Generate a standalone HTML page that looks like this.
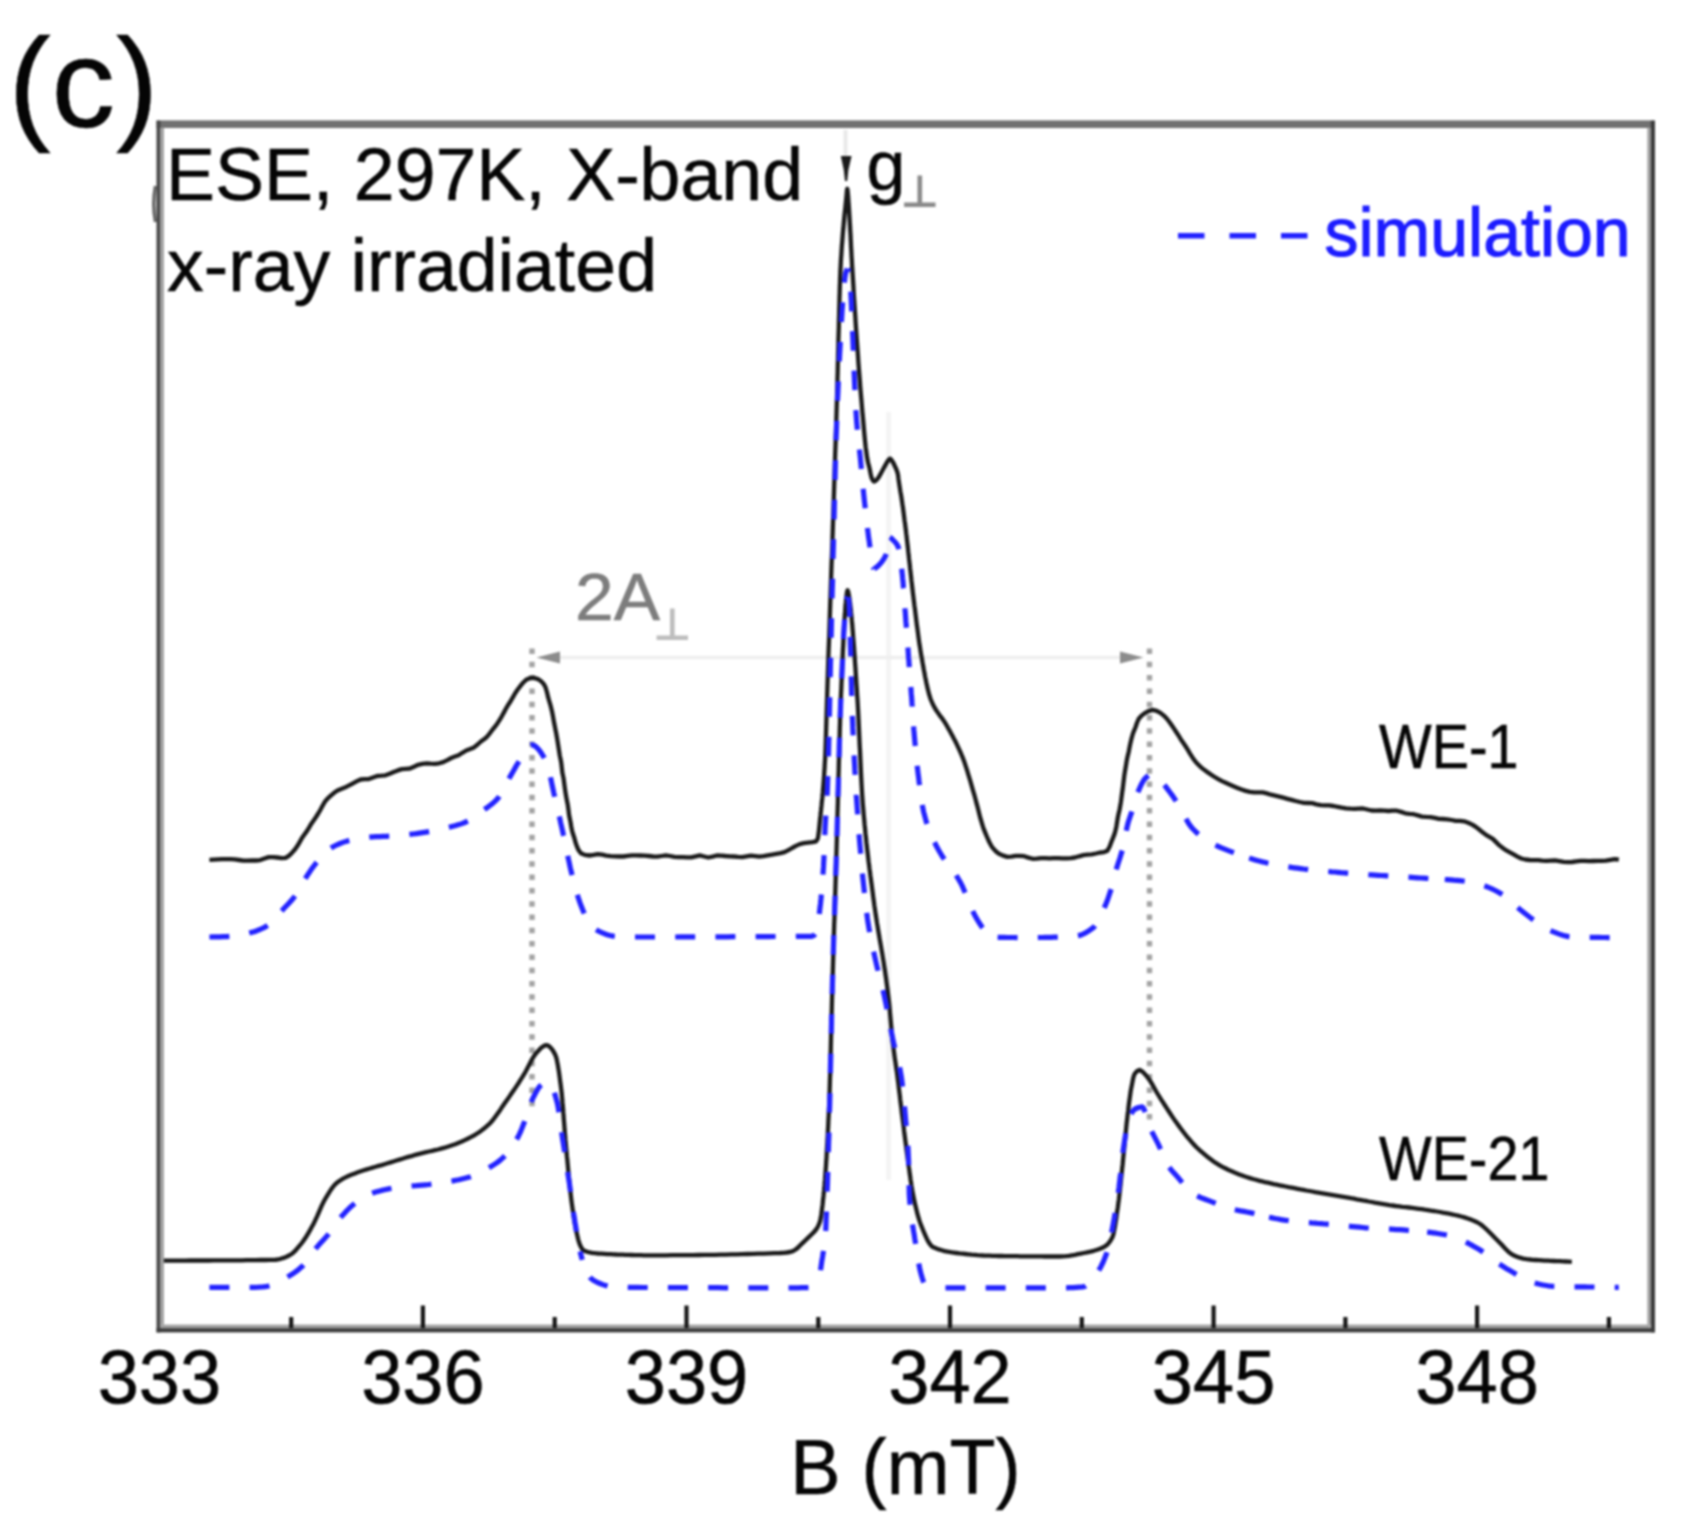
<!DOCTYPE html>
<html lang="en"><head><meta charset="utf-8"><title>ESE spectra (c)</title>
<style>
html,body{margin:0;padding:0;background:#fff;}
body{width:1684px;height:1530px;overflow:hidden;}
svg{display:block;}
</style></head><body>
<svg width="1684" height="1530" viewBox="0 0 1684 1530">
<defs><filter id="soft" x="0" y="0" width="1684" height="1530" filterUnits="userSpaceOnUse" color-interpolation-filters="sRGB"><feGaussianBlur stdDeviation="0.9"/></filter></defs>
<rect width="1684" height="1530" fill="#fff"/>
<g filter="url(#soft)">
<g stroke="#eeeeee" stroke-width="4" fill="none">
<line x1="845.5" y1="130" x2="845.5" y2="158" stroke="#e9e9e9"/>
<line x1="888.8" y1="412" x2="888.8" y2="1180" stroke="#f4f4f4" stroke-width="5"/>
<line x1="558" y1="657.5" x2="1122" y2="657.5" stroke-width="3.5"/>
</g>
<g stroke="#a3a3a3" stroke-width="5.4" stroke-dasharray="5.5 7.8" fill="none">
<line x1="532" y1="648.5" x2="532" y2="1111"/>
<line x1="1149.5" y1="648.5" x2="1149.5" y2="1121"/>
</g>
<g fill="#8c8c8c">
<polygon points="536.5,657.5 560,651.5 560,663.5"/>
<polygon points="1143.5,657.5 1120,651.5 1120,663.5"/>
</g>
<g fill="none" stroke-linejoin="round" stroke-linecap="butt">
<path d="M209.4 859.8L213.1 859.6L217.9 859.4L222.1 859.2L226.4 859.1L230.6 859.2L234.8 859.4L239.1 860L243.3 860.6L247.5 860.7L251.8 860.5L256 860.5L260.2 860.1L264.5 858.5L268.7 857.1L272.9 857.1L277.2 857.5L281.5 858.1L285.6 857.9L289.2 855.6L292.3 852.4L294.9 849.5L297.3 846.1L299.8 841.8L302.3 837.4L304.6 834.2L306.9 831.1L309.2 827.3L311.5 823.4L313.8 820.2L316 817L318.2 813.5L320.4 809.8L322.7 805.5L325.1 801.4L327.9 798.3L330.8 795.6L334.1 792.8L337.5 790.5L341.1 789L344.8 787.6L348.6 785.7L352.5 783.6L356.5 781.4L360.6 779.5L364.7 779.2L368.8 779.1L373 777.5L377.2 776L381.4 775.7L385.5 775.3L389.6 773.8L393.7 772L397.8 770.4L401.8 769.1L405.8 768.8L409.9 768.5L414 766.7L418.1 764.8L422.3 763.8L426.5 763.4L430.7 763.7L434.9 763.9L439.1 763.3L443.2 762.1L447.3 760.1L451.2 758L454.9 756.6L458.6 755.2L462.3 752.8L466.2 750.5L470.1 749L474 747.4L477.6 744.5L480.9 741.5L484 739.3L486.8 737L489.6 733.6L492.3 729.9L494.8 726.8L497.2 723.7L499.5 720.1L501.8 716.3L504.1 712.1L506.4 707.8L508.6 704.2L510.9 700.7L513.1 696.9L515.3 693L517.7 689.5L520.3 686.2L523.1 682.7L526.2 679.8L529.8 678.1L533.8 677.7L537.9 679.1L541.5 681.6L543.9 684.2L545.6 687.5L547 692.3L548.1 697.2L549.2 701L550.3 704.6L551.3 708.6L552.3 712.8L553.2 717.6L554 722.3L554.8 726.2L555.5 729.9L556.3 733.8L557 737.9L557.7 742.2L558.4 746.7L559.1 751.2L559.8 755.6L560.5 758.9L561.2 762.5L561.8 767.8L562.4 773L563.1 776.1L563.7 779.2L564.3 784.1L565 789.3L565.7 793.8L566.4 797.9L567 801L567.7 804.4L568.4 809.4L569 814.5L569.7 818.3L570.5 821.9L571.2 826.4L572.1 830.8L573.1 834.3L574.3 837.7L575.3 841.8L576.7 845.9L578.4 849.9L580.9 853.2L584.8 854.9L589.4 855.5L593.6 854.9L597.9 854.1L602.1 854.7L606.3 855.6L610.6 856.1L614.8 856.3L619.1 856.5L623.3 856.5L627.6 855.9L631.8 855.3L636.1 855.3L640.3 855.5L644.6 855.7L648.8 856L653.1 856.5L657.3 856.7L661.6 856L665.8 855.3L670.1 856L674.3 856.9L678.6 857.1L682.8 857.1L687.1 857.3L691.3 857.3L695.6 856.3L699.8 855.4L704.1 856.5L708.3 857.5L712.6 856.6L716.8 855.5L721.1 855.6L725.3 856L729.6 856.3L733.8 856.5L738.1 856.9L742.3 857.1L746.6 856.3L750.8 855.6L755.1 856.1L759.3 856.7L763.6 856.1L767.8 855.3L772.1 854.6L776.3 853.9L780.5 853.2L784.5 852.2L788.4 850.2L792.1 848L795.9 845.9L799.8 844.1L803.9 843.2L808.1 842.7L812.5 842.2L816.1 841.3L817.6 839.1L818.1 837L818.5 833.9L819 830.1L819.4 825.9L819.8 821.6L820.2 817.6L820.5 815.2L820.7 812.8L821 810.5L821.2 808.1L821.5 805.7L821.7 803.2L822 800.6L822.3 798L822.5 795.3L822.8 792.4L823 789.4L823.3 786.3L823.6 783L823.8 779.5L824.1 775.8L824.3 771.9L824.6 767.8L824.8 763.4L825.1 758.8L825.2 756.8L825.3 754.6L825.4 752.2L825.5 749.5L825.6 746.7L825.7 743.7L825.8 740.6L825.9 737.3L826 734L826.1 730.6L826.2 727.1L826.3 723.6L826.4 720.1L826.5 716.6L826.6 713.1L826.7 709.7L826.8 706.4L826.9 703.1L827 700L827.4 687.4L827.8 674.9L828.2 662.5L828.6 650.2L829.1 638L829.5 625.9L829.9 613.7L830.3 601.6L830.7 589.6L831.1 577.5L831.5 565.4L832 553.2L832.4 541.1L832.8 528.8L833.2 516.5L833.6 504.1L834 491.6L834.4 479L834.8 466.3L835.2 453.4L835.7 440.3L836.1 427.1L836.5 413.6L836.9 400L837.1 394.7L837.2 389.2L837.4 383.5L837.5 377.6L837.7 371.5L837.8 365.3L838 359L838.1 352.7L838.3 346.3L838.4 339.9L838.6 333.5L838.8 327.2L838.9 321L839.1 314.9L839.2 309L839.4 303.2L839.5 297.6L839.7 292.3L839.8 287.2L840 282.5L840.1 278L840.3 274L840.4 270.3L840.6 267L840.8 262.8L841 258.8L841.3 255.1L841.5 251.6L841.7 248.4L841.9 245.3L842.2 242.3L842.4 239.5L842.6 236.8L842.8 234.2L843 231.6L843.3 229.1L843.5 226.5L843.7 224L844 220.5L844.3 217.2L844.6 214L845 210.9L845.3 207.9L845.6 204.9L845.9 202L846.2 199L846.6 194.8L846.9 190.7L847.3 188.8L847.6 190.5L848 194.6L848.3 199L848.5 201.6L848.7 204.4L848.9 207.4L849.1 210.5L849.3 213.8L849.5 217.2L849.7 220.6L849.9 224L850.1 226.8L850.2 229.8L850.4 232.8L850.6 236L850.7 239.1L850.9 242.3L851 245.6L851.2 248.8L851.4 252L851.5 255.1L851.7 258.2L851.9 261.3L852 264.2L852.2 267L852.6 273.4L853 279.7L853.4 286L853.7 292.2L854.1 298.3L854.5 304.4L854.9 310.4L855.3 316.4L855.6 322.2L856 328L856.4 333.7L856.8 339.4L857.2 344.9L857.6 350.4L858 355.8L858.3 361.1L858.7 366.3L859.1 371.4L859.5 376.4L859.9 381.3L860.2 386.1L860.6 390.9L861 395.5L861.4 400L861.7 403.6L862 407.3L862.3 410.9L862.6 414.6L863 418.2L863.3 421.8L863.6 425.3L863.9 428.8L864.2 432.2L864.5 435.5L864.8 438.7L865.1 441.7L865.4 444.7L865.7 447.5L866.1 450.1L866.4 452.6L866.7 454.9L867 456.9L867.3 458.8L868.1 462.7L868.9 465.8L869.7 469L870.6 473.7L871.5 477.5L872.8 480.3L874 481.6L875.5 480.9L877 479.5L878.6 477.4L880.2 474.6L881.9 471.5L883.5 468.5L885.1 465.6L886.7 462.7L888.3 460.3L889.1 459.2L890 458.6L890.9 459.2L891.7 460.3L893.4 463L895 466.5L896.3 469.2L897.6 473L898.1 475.6L898.5 479.1L899 482.5L899.5 485.8L900 489L900.5 492.1L901.1 495.3L901.6 498.6L902.1 502L902.5 504.9L903 508L903.4 511.1L903.8 514.3L904.2 517.5L904.6 520.8L905.1 524.1L905.5 527.5L905.9 530.4L906.2 533.3L906.6 536.3L906.9 539.4L907.3 542.5L907.6 545.6L908 548.8L908.3 552L908.7 555.2L909 558.4L909.4 561.7L909.8 564.9L910.1 568.2L910.5 571.4L910.8 574.6L911.2 577.8L911.5 580.9L911.9 584.1L912.2 587.1L912.6 590.1L912.9 593.1L913.3 596L913.7 599.4L914.1 602.7L914.5 606.1L915 609.5L915.4 612.9L915.8 616.3L916.2 619.6L916.6 622.9L917 626.2L917.5 629.4L917.9 632.6L918.3 635.7L918.7 638.7L919.1 641.7L919.5 644.5L920 647.3L920.4 650L920.8 652.6L921.2 655L921.9 658.7L922.5 662.4L923.2 666.1L923.8 669.7L924.5 673.2L925.1 676.6L925.8 679.9L926.4 683L927.1 686L927.7 688.9L928.4 691.5L929 694L929.7 696.2L930.3 698.2L931 700L932.7 704L934.5 707.4L936.2 710.3L938 712.9L939.7 715.3L941.5 717.6L943.2 720L945 722.6L946.7 725.5L948.1 728.1L949.6 730.6L951 733.2L952.4 735.8L953.8 738.5L955.3 741.2L956.7 744.1L958.1 747.1L959.5 750.2L961 753.5L962.4 756.9L963.4 759.4L964.4 762.1L965.3 764.9L966.3 767.9L967.3 771L968.2 774.2L969.2 777.4L970.2 780.7L971.2 784.1L972.1 787.4L973.1 790.8L974.1 794.1L974.9 797L975.7 800L976.5 803.1L977.4 806.3L978.2 809.5L979 812.7L979.8 815.9L980.6 819L981.5 821.9L982.3 824.6L983.1 827.2L983.9 829.4L985.3 832.9L986.7 836.3L988.1 839.5L989.5 842.5L990.9 845.1L992.3 847.3L993.7 849L996.3 851.7L999 853.8L1002.5 855.4L1007.2 856.9L1011.4 856.6L1015.6 855.9L1019.9 855.9L1024.1 856.2L1028.3 857.6L1032.6 858.8L1036.8 858.7L1041.1 858.2L1045.3 858.2L1049.6 858.3L1053.8 858.2L1058.1 858.1L1062.3 858.3L1066.5 858.4L1070.7 858.1L1074.9 857.5L1079.1 856.3L1083.3 855.2L1087.5 854.7L1091.7 854.3L1096 853.5L1100.2 852.5L1104.1 852.1L1107.4 850.7L1109.8 846.3L1111.6 841.3L1113.1 837.7L1114.4 834.4L1115.4 830.8L1116.3 826.9L1117.1 821.8L1117.9 816.9L1118.7 813.3L1119.5 809.9L1120.2 806.1L1120.9 802L1121.5 797.5L1122.1 792.9L1122.7 788.9L1123.2 784.8L1123.8 779.8L1124.4 774.8L1125 771L1125.7 767.2L1126.4 762.6L1127.2 758.2L1128 754.8L1128.8 751.4L1129.7 746.7L1130.7 741.9L1131.7 737.8L1132.8 734L1134.1 730.6L1135.5 727.2L1136.9 723L1138.6 719L1141.3 715.9L1144.5 713.3L1148.4 711.1L1152.5 709.9L1156.6 710.8L1160.4 712.9L1163.8 715.6L1166.9 718.8L1169.4 722L1171.7 725.2L1174 728.6L1176.2 732L1178.6 735.7L1180.9 739.4L1183.2 742.7L1185.4 746L1187.7 749.7L1190 753.6L1192.6 757.7L1195.4 761.6L1198.4 764.8L1201.4 767.6L1204.6 770.1L1207.8 772.4L1211.2 774.7L1214.7 777L1218.3 779.1L1222 781.1L1225.7 782.8L1229.5 784.5L1233.4 786.2L1237.5 787.9L1241.6 789.5L1245.7 790.9L1249.9 791.9L1254.1 792.4L1258.4 792.4L1262.6 792.4L1266.8 793.4L1271 794.7L1275.1 795.6L1279.2 796.6L1283.3 797.7L1287.4 798.8L1291.5 799.9L1295.6 801L1299.8 802L1303.9 802.8L1308.1 803L1312.3 803.2L1316.5 804.3L1320.7 805.2L1325 805.3L1329.2 805.4L1333.4 806L1337.6 806.8L1341.8 807.6L1346.1 808.3L1350.3 808.7L1354.5 808.8L1358.8 808.6L1363 808.5L1367.3 809.5L1371.5 810.5L1375.7 810.6L1380 810.4L1384.2 810.7L1388.5 811L1392.7 810.7L1396.9 810.7L1401.1 811.9L1405.3 813.3L1409.4 813.8L1413.6 814.2L1417.8 815.4L1422 816.6L1426.2 816.9L1430.5 817.1L1434.7 817.9L1438.9 818.8L1443.1 819L1447.4 819.3L1451.6 820L1455.8 820.8L1460 820.9L1464.1 821.3L1468.2 822.7L1472.2 824.6L1475.8 826.9L1479.2 829.5L1482.6 832.3L1486 834.9L1489.4 836.9L1492.8 838.9L1496.1 842.1L1499.4 845.4L1502.8 848L1506.3 850.4L1509.9 852.4L1513.6 854.4L1517.4 856.6L1521.3 858.5L1525.4 859.5L1529.7 860L1533.9 860.1L1538.1 860.2L1542.3 860.6L1546.5 860.9L1550.8 860.6L1555 860.4L1559.3 861.1L1563.5 861.9L1567.8 862.2L1572 862L1576.3 861.4L1580.5 860.8L1584.8 860.9L1589 861.1L1593.3 861L1597.5 860.9L1601.8 860.9L1606 860.7L1610.5 859.8L1614.5 859.1L1617.2 859.4L1618.8 859.8" stroke="#181818" stroke-width="4.3"/>
<path d="M161.9 1260.7L166.6 1260.7L171.3 1260.6L176 1260.6L180.7 1260.6L185.4 1260.6L190.1 1260.5L194.8 1260.5L199.5 1260.5L204.2 1260.5L208.9 1260.5L213.6 1260.4L218.3 1260.4L223 1260.4L227.7 1260.4L232.4 1260.3L237.1 1260.3L241.8 1260.3L246.5 1260.2L251.2 1260.2L255.9 1260.1L260.6 1260L265.3 1260L270 1259.9L274.7 1259.8L277.7 1259.5L280.6 1258.8L283.6 1257.9L286.5 1256.7L289.5 1255.3L291.9 1253.8L294.3 1251.7L296.6 1249.2L299 1246.4L301.4 1243.5L303.1 1241.3L304.8 1238.8L306.5 1236.2L308.2 1233.3L309.9 1230.4L311.6 1227.3L313.3 1224.2L314.6 1221.6L315.9 1218.8L317.3 1215.9L318.6 1212.8L319.9 1209.8L321.2 1206.8L322.6 1203.9L323.9 1201.3L325.2 1198.9L327.2 1195.6L329.2 1192.4L331.1 1189.4L333.1 1186.7L335.1 1184.4L337.1 1182.6L340.1 1180.5L343 1178.7L346 1177.2L348.9 1175.8L351.9 1174.6L354.9 1173.4L357.8 1172.3L360.8 1171.3L363.8 1170.3L366.7 1169.4L369.7 1168.5L372.7 1167.6L375.6 1166.8L378.6 1165.9L381.6 1165.1L384.5 1164.2L387.5 1163.3L390.5 1162.4L393.4 1161.5L396.4 1160.5L399.4 1159.6L402.4 1158.7L405.3 1157.8L408.3 1156.9L411.3 1156.1L414.2 1155.2L417.2 1154.4L420.2 1153.6L423.1 1152.9L426.1 1152.2L429.1 1151.5L432 1150.9L435 1150.2L438 1149.5L441 1148.7L443.9 1147.9L446.9 1147L449.9 1146L452.8 1145L455.8 1143.9L458.8 1142.7L461.8 1141.5L464.8 1140.1L467.7 1138.7L470.7 1137.2L473.2 1135.8L475.8 1134.3L478.3 1132.7L480.9 1130.9L483.4 1129L486 1126.9L488.5 1124.7L490.5 1122.7L492.5 1120.5L494.4 1118L496.4 1115.3L498.4 1112.5L500.4 1109.7L502.3 1106.7L504.3 1103.8L506.3 1101L508.1 1098.5L509.9 1095.9L511.6 1093.3L513.4 1090.7L515.2 1088.1L517 1085.4L518.8 1082.7L520.5 1079.9L522.3 1077.1L524.1 1074.2L525.8 1071.2L527.5 1068L529.2 1064.7L530.9 1061.4L532.6 1058.3L534.3 1055.6L536 1053.4L538.6 1050.5L541.2 1047.8L543.8 1045.9L546.4 1045.1L548.6 1045.8L550.8 1047.8L553.1 1050.9L555.3 1054.9L555.8 1056.2L556.4 1058L556.9 1060.3L557.4 1062.9L558 1066L558.5 1069.3L559.1 1072.9L559.6 1076.7L560.1 1080.7L560.7 1084.9L561.2 1089.1L561.5 1091.3L561.7 1093.8L562 1096.5L562.3 1099.4L562.5 1102.5L562.8 1105.7L563.1 1109L563.3 1112.4L563.6 1115.8L563.8 1119.3L564.1 1122.8L564.4 1126.3L564.6 1129.8L564.9 1133.1L565.2 1136.4L565.4 1139.5L565.7 1142.5L566 1145.9L566.3 1149.3L566.6 1152.8L566.9 1156.2L567.3 1159.6L567.6 1163L567.9 1166.4L568.2 1169.7L568.5 1173L568.8 1176.3L569.1 1179.5L569.4 1182.6L569.7 1185.7L570 1188.6L570.4 1191.5L570.7 1194.3L571 1196.9L571.3 1199.5L571.6 1201.9L572.1 1205.5L572.6 1209.1L573.1 1212.4L573.6 1215.7L574 1218.8L574.5 1221.7L575 1224.5L575.5 1227.2L576 1229.7L576.5 1232L577.4 1235.9L578.2 1239.5L579.1 1242.6L580 1245L581.8 1248.5L583.5 1250.5L587.8 1252L592 1252.8L595.1 1253.2L598.1 1253.5L601.2 1253.7L604.3 1253.9L607.3 1254.1L610.4 1254.2L613.4 1254.3L616.5 1254.5L619.5 1254.6L622.6 1254.7L625.6 1254.8L628.7 1254.9L631.7 1255L634.8 1255.1L637.8 1255.2L640.9 1255.2L643.9 1255.3L647 1255.3L650 1255.3L655.4 1255.3L660.8 1255.3L666.2 1255.3L671.7 1255.2L677.1 1255.2L682.5 1255.2L687.9 1255.1L693.3 1255.1L698.8 1255L704.2 1254.9L709.6 1254.8L715 1254.8L720.4 1254.7L725.8 1254.6L731.2 1254.4L736.7 1254.3L742.1 1254.2L747.5 1254L752.9 1253.9L758.3 1253.7L763.8 1253.6L769.2 1253.4L774.6 1253.2L780 1253L783.3 1252.8L786.7 1252.5L790 1252L792.9 1251.1L795.7 1249.5L798.1 1247.5L800.5 1245L803 1242.6L805.5 1240.2L808.5 1237.4L811.5 1234.5L814 1232L816.5 1229L818.1 1226.2L819.8 1222L820.3 1220.2L820.7 1217.9L821.2 1215.1L821.6 1211.9L822.1 1208.4L822.6 1204.5L823 1200.3L823.5 1196L823.7 1193.6L824 1191L824.2 1188.3L824.5 1185.5L824.7 1182.6L825 1179.5L825.2 1176.2L825.5 1172.8L825.7 1169.3L826 1165.6L826.2 1161.8L826.5 1157.8L826.7 1153.7L826.9 1149.4L827.2 1145L827.4 1140.4L827.7 1135.7L827.9 1130.8L828.2 1125.7L828.4 1120.5L828.7 1115.1L828.9 1109.6L829.2 1103.9L829.4 1098L829.5 1095.2L829.6 1092.2L829.7 1089L829.8 1085.6L829.9 1081.9L830 1078.1L830.2 1074.2L830.3 1070.1L830.4 1065.9L830.5 1061.6L830.6 1057.1L830.7 1052.7L830.8 1048.1L830.9 1043.6L831 1039L831.1 1034.4L831.2 1029.9L831.4 1025.4L831.5 1020.9L831.6 1016.5L831.7 1012.2L831.8 1008L831.9 1003.9L832 1000L832.2 992.8L832.4 985.7L832.6 978.6L832.8 971.6L833 964.7L833.2 957.9L833.4 951.1L833.6 944.3L833.8 937.6L834 931L834.2 924.3L834.5 917.7L834.7 911L834.9 904.4L835.1 897.8L835.3 891.2L835.5 884.5L835.7 877.9L835.9 871.2L836.1 864.4L836.3 857.7L836.5 850.8L836.7 843.9L836.9 837L837.1 831.4L837.2 825.6L837.4 819.7L837.5 813.6L837.7 807.5L837.9 801.3L838 795.1L838.2 788.8L838.4 782.5L838.5 776.2L838.7 770L838.8 763.8L839 757.6L839.2 751.6L839.3 745.6L839.5 739.8L839.7 734.1L839.8 728.6L840 723.3L840.1 718.1L840.3 713.2L840.5 708.5L840.6 704.1L840.8 700L841 694.2L841.3 688.4L841.5 682.7L841.8 677.1L842 671.5L842.2 666.1L842.5 660.7L842.7 655.4L842.9 650.3L843.2 645.3L843.4 640.4L843.6 635.7L843.9 631.2L844.1 626.9L844.4 622.7L844.6 618.8L844.8 615L845.1 611.5L845.3 608.3L845.5 605.3L845.8 602.5L846 600.1L846.3 597.9L846.5 596L847 592.1L847.6 590.2L848.3 592.1L849 596L849.4 598.1L849.7 600.5L850.1 603.2L850.4 606.1L850.8 609.3L851.1 612.7L851.5 616.3L851.8 620.2L852.2 624.2L852.5 628.4L852.9 632.8L853.2 637.4L853.6 642.1L854 646.9L854.3 651.9L854.7 657L855 662.2L855.4 667.4L855.7 672.7L856.1 678.1L856.4 683.6L856.8 689L857.1 694.5L857.5 700L857.7 703.3L857.9 706.8L858.1 710.6L858.3 714.6L858.5 718.7L858.7 723L858.9 727.4L859.1 731.9L859.3 736.5L859.5 741.1L859.7 745.8L860 750.4L860.2 755.1L860.4 759.7L860.6 764.2L860.8 768.7L861 773L861.2 777.2L861.4 781.2L861.6 785L861.8 788.7L862 792L862.2 795.2L862.4 798L862.8 803.8L863.3 809.3L863.7 814.6L864.2 819.6L864.6 824.5L865.1 829.2L865.5 833.8L866 838.1L866.4 842.3L866.9 846.4L867.3 850.4L867.8 854.2L868.2 858L868.6 861.6L869.1 865.2L869.5 868.7L870 872.2L870.4 875.6L870.9 879L871.3 882.4L871.8 885.8L872.2 889.1L872.7 892.6L873.1 896L873.8 901L874.4 905.7L875.1 910.3L875.7 914.7L876.4 918.9L877 923L877.7 927L878.3 931L879 934.8L879.6 938.7L880.3 942.5L881 946.3L881.6 950.1L882.3 954L882.9 957.9L883.6 962L884.2 966.1L884.9 970.4L885.5 974.8L886.2 979.4L886.8 984.2L887.5 989.2L888.1 994.5L888.8 1000L889.1 1002.6L889.4 1005.4L889.7 1008.4L889.9 1011.6L890.2 1014.9L890.5 1018.2L890.8 1021.6L891.1 1024.9L891.4 1028.2L891.6 1031.4L891.9 1034.5L892.2 1037.3L892.5 1040L892.9 1043.7L893.4 1047.2L893.8 1050.5L894.2 1053.6L894.6 1056.7L895 1059.7L895.5 1062.7L895.9 1065.6L896.3 1068.6L896.8 1071.6L897.2 1074.8L897.6 1078L898 1081L898.4 1084L898.7 1087L899.1 1090.1L899.5 1093.2L899.9 1096.3L900.2 1099.5L900.6 1102.6L901 1105.7L901.4 1108.8L901.7 1111.9L902.1 1115L902.5 1118L902.9 1121.1L903.3 1124.2L903.7 1127.2L904 1130.3L904.4 1133.4L904.8 1136.4L905.2 1139.5L905.6 1142.5L906 1145.5L906.3 1148.4L906.7 1151.3L907.1 1154.2L907.5 1157L907.9 1160.3L908.4 1163.5L908.8 1166.8L909.3 1170.1L909.7 1173.4L910.2 1176.6L910.6 1179.8L911.1 1182.8L911.5 1185.8L912 1188.6L912.4 1191.2L912.9 1193.7L913.3 1196L914.1 1199.8L914.9 1203.4L915.7 1206.8L916.5 1210L917.2 1213.1L918 1215.9L918.8 1218.6L919.6 1221.1L920.4 1223.4L921.2 1225.5L922.7 1229.2L924.1 1232.7L925.6 1236.1L927 1239.2L928.5 1242L930 1244.2L931.4 1245.9L932.9 1247L935.9 1248.3L938.8 1249.4L941.8 1250.3L944.7 1251.1L947.6 1251.7L950.6 1252.2L953.5 1252.6L956.5 1253L959.5 1253.4L962.5 1253.7L965.5 1254L968.6 1254.3L971.6 1254.6L974.6 1254.8L977.6 1255.1L980.6 1255.3L983.6 1255.5L986.7 1255.6L989.7 1255.7L992.7 1255.8L995.7 1255.9L998.8 1256L1001.8 1256L1004.9 1256.1L1007.9 1256.1L1011 1256.1L1014.1 1256.2L1017.1 1256.2L1020.2 1256.3L1023.3 1256.3L1026.3 1256.3L1029.4 1256.4L1032.4 1256.4L1035.5 1256.4L1038.6 1256.4L1041.6 1256.4L1044.7 1256.5L1047.8 1256.5L1050.8 1256.5L1053.9 1256.5L1056.9 1256.5L1060 1256.5L1063 1256.4L1066 1256.2L1068.9 1255.8L1071.9 1255.3L1074.9 1254.8L1077.8 1254.2L1080.8 1253.6L1083.8 1253L1087.2 1252.3L1090.5 1251.6L1093.8 1250.8L1097.2 1249.8L1100.6 1248.5L1103.9 1247L1106 1245.7L1108.1 1243.8L1110.2 1241.1L1112.3 1237.5L1112.8 1236.2L1113.4 1234.3L1113.9 1232L1114.4 1229.3L1115 1226.3L1115.5 1222.9L1116.1 1219.4L1116.6 1215.7L1117.1 1211.9L1117.7 1208.1L1118.2 1204.3L1118.5 1201.9L1118.9 1199.2L1119.2 1196.5L1119.5 1193.6L1119.9 1190.6L1120.2 1187.5L1120.6 1184.3L1120.9 1181.1L1121.2 1177.9L1121.6 1174.6L1121.9 1171.3L1122.2 1168L1122.6 1164.7L1122.9 1161.5L1123.2 1158.4L1123.5 1155.2L1123.9 1152L1124.2 1148.7L1124.5 1145.4L1124.8 1142.1L1125.1 1138.7L1125.5 1135.4L1125.8 1132.1L1126.1 1128.9L1126.4 1125.7L1126.7 1122.6L1127.1 1119.6L1127.4 1116.7L1127.7 1114L1128.2 1110.3L1128.6 1106.6L1129 1103L1129.5 1099.6L1130 1096.3L1130.4 1093.2L1130.8 1090.4L1131.3 1087.9L1132.2 1083.3L1133 1079L1133.9 1075.6L1134.8 1073.6L1137.2 1071L1139.6 1070L1142.5 1071.6L1145.5 1074.8L1147.3 1076.9L1149.1 1079.4L1150.9 1082.2L1152.7 1085.2L1154.4 1088.3L1156.2 1091.5L1158 1094.5L1159.8 1097.4L1161.5 1100.1L1163.3 1102.8L1165 1105.5L1166.7 1108.2L1168.4 1110.8L1170.2 1113.5L1171.9 1116.1L1173.6 1118.6L1175.3 1121.1L1177.1 1123.6L1178.8 1125.9L1180.9 1128.7L1183 1131.5L1185.1 1134.2L1187.2 1136.8L1189.4 1139.4L1191.5 1141.9L1193.6 1144.2L1195.7 1146.5L1197.8 1148.5L1200.4 1150.9L1203.1 1153.2L1205.7 1155.4L1208.3 1157.5L1211 1159.5L1213.6 1161.4L1216.2 1163.2L1218.9 1164.8L1221.5 1166.3L1224.3 1167.8L1227.2 1169.2L1230 1170.6L1232.9 1171.8L1235.8 1173.1L1238.6 1174.2L1241.5 1175.3L1244.3 1176.3L1247.2 1177.2L1250 1178.1L1253 1179L1255.9 1179.8L1258.9 1180.6L1261.9 1181.3L1264.8 1182.1L1267.8 1182.7L1270.8 1183.4L1273.8 1184.1L1276.7 1184.7L1279.7 1185.3L1282.7 1185.9L1285.6 1186.5L1288.6 1187.1L1291.6 1187.6L1294.5 1188.2L1297.5 1188.8L1300.5 1189.4L1303.4 1189.9L1306.4 1190.5L1309.4 1191L1312.3 1191.5L1315.3 1192.1L1318.3 1192.6L1321.2 1193.1L1324.2 1193.6L1327.2 1194.1L1330.2 1194.6L1333.1 1195.1L1336.1 1195.6L1339.1 1196.1L1342 1196.6L1345 1197.1L1348 1197.6L1350.9 1198.2L1353.9 1198.7L1356.9 1199.3L1359.8 1199.8L1362.8 1200.4L1365.8 1200.9L1368.8 1201.5L1371.7 1202L1374.7 1202.6L1377.7 1203.1L1380.6 1203.6L1383.6 1204.1L1386.6 1204.6L1389.5 1205.1L1392.5 1205.5L1395.8 1206L1399.1 1206.4L1402.4 1206.8L1405.7 1207.1L1408.9 1207.5L1412.2 1207.9L1415.5 1208.3L1418.8 1208.8L1421.8 1209.2L1424.8 1209.7L1427.8 1210.1L1430.9 1210.6L1433.9 1211L1436.9 1211.5L1439.9 1212L1442.9 1212.6L1445.9 1213.1L1449 1213.7L1452 1214.3L1455 1215L1458 1215.7L1461.3 1216.5L1464.5 1217.4L1467.8 1218.5L1471.1 1219.6L1474.3 1221L1477.6 1222.5L1480.1 1224L1482.5 1225.8L1485 1228L1487.4 1230.3L1489.9 1232.8L1492.4 1235.3L1494.8 1237.8L1497.3 1240.2L1499.5 1242.4L1501.8 1244.8L1504 1247.2L1506.2 1249.6L1508.4 1251.8L1510.7 1253.6L1512.9 1254.9L1516.4 1256.4L1519.8 1257.7L1523.2 1258.6L1526.7 1259.2L1529.7 1259.5L1532.7 1259.8L1535.7 1260L1538.7 1260.2L1541.7 1260.4L1544.7 1260.6L1547.7 1260.7L1550.8 1260.9L1553.8 1261L1556.8 1261.1L1559.8 1261.2L1562.8 1261.4L1565.8 1261.5L1568.8 1261.6L1571.8 1261.8" stroke="#181818" stroke-width="4.3"/>
<path d="M209.4 937L212.9 936.9L216.3 936.8L219.8 936.8L223.3 936.7L226.7 936.6L230.2 936.4L233.2 936.2L236.1 935.8L239.1 935.3L242.1 934.7L245.1 934L248 933.3L251 932.5L254 931.7L256.9 930.7L259.9 929.5L262.8 928.2L265.8 926.6L268 925.1L270.2 923.3L272.5 921.2L274.7 918.8L276.9 916.3L279.2 913.8L281.4 911.2L283.6 908.8L286 906.3L288.4 903.8L290.7 901.2L293.1 898.5L295.5 895.4L297.2 892.8L299 889.9L300.7 886.7L302.4 883.6L304.2 880.5L305.9 877.6L307.6 874.9L309.4 872.3L311.1 869.7L312.8 867.3L314.6 865L316.3 862.8L318.4 860.3L320.5 857.8L322.6 855.4L324.8 853.1L326.9 851.1L329 849.3L331.1 847.9L334.1 846.3L337 844.8L340 843.5L343 842.4L346 841.4L348.9 840.6L351.9 839.9L354.9 839.3L357.8 838.7L360.8 838.3L363.8 837.8L366.8 837.4L369.7 837.1L372.7 836.9L376.2 836.7L379.6 836.6L383.1 836.4L386.6 836.3L390 836.2L393.5 836L396.7 835.8L400 835.5L403.2 835.2L406.4 834.8L409.7 834.4L412.9 834L416.2 833.6L419.4 833.1L422.6 832.6L425.9 832.1L429.1 831.6L432.1 831.1L435 830.5L438 829.9L441 829.3L444 828.6L446.9 827.9L449.9 827.1L452.9 826.3L455.8 825.5L458.8 824.6L461.8 823.6L464.7 822.5L467.7 821.2L470.2 819.9L472.6 818.3L475.1 816.5L477.6 814.6L480 812.7L482.5 810.8L485 809L487.5 807.3L489.9 805.5L492.4 803.6L494.9 801.4L497.4 798.9L499.1 796.7L500.8 794L502.5 791L504.2 787.8L505.9 784.5L507.6 781.2L509.3 778.1L511 775.1L512.8 772L514.5 768.9L516.2 765.9L518 763L519.7 760.3L521.7 757.1L523.6 753.7L525.6 750.4L527.6 747.6L529.5 745.6L531.5 744.9L533.6 745.3L535.8 746.6L537.9 748.6L540 751.2L542.1 754.3L544.3 757.9L546.4 761.8L547.1 763.5L547.9 765.8L548.6 768.6L549.4 771.8L550.1 775.2L550.8 778.8L551.6 782.5L552.3 786.2L553.1 789.7L553.8 793L554.5 795.9L555.2 798.8L555.9 801.8L556.5 804.7L557.2 807.6L557.9 810.6L558.6 813.5L559.3 816.5L560 819.5L560.6 822.5L561.3 825.5L562 828.5L562.7 831.6L563.3 834.5L564 837.5L564.6 840.5L565.2 843.6L565.9 846.7L566.5 849.8L567.2 852.9L567.8 856L568.4 859L569.1 862L569.7 865L570.3 867.8L571 870.6L571.6 873.2L572.4 876.5L573.2 879.8L574.1 883L574.9 886.1L575.7 889.2L576.5 892.1L577.4 894.8L578.2 897.5L579 899.9L580.2 903.4L581.5 906.8L582.8 910L584 912.9L585.2 915.5L586.5 917.7L588.9 921.3L591.2 924.5L593.6 927.3L595.9 929.5L598.3 931L601.3 932.4L604.3 933.6L607.2 934.7L610.2 935.5L613.2 936.1L616.2 936.4L619.6 936.6L623 936.7L626.4 936.8L629.7 936.9L633.1 936.9L636.5 937L639.9 937L645.7 937L651.6 937L657.4 937L663.2 937L669.1 937L674.9 937L680.8 936.9L686.6 936.9L692.4 936.9L698.3 936.9L704.1 936.9L710 936.8L715.8 936.8L721.6 936.8L727.5 936.8L733.3 936.7L739.1 936.7L745 936.7L750.8 936.6L756.6 936.6L762.5 936.6L768.3 936.6L774.2 936.5L780 936.5L783.2 936.5L786.4 936.5L789.6 936.5L792.8 936.5L796 936.4L799.2 936.4L802.4 936.4L805.6 936.4L808.8 936.3L812 936.3L814.2 935.1L816.5 932" stroke="#2222ff" stroke-width="5.2" stroke-dasharray="20 20.2" stroke-dashoffset="0.0"/>
<path d="M816.5 932L817 930.7L817.4 928.6L817.9 925.7L818.4 922.3L818.8 918.4L819.3 914.3L819.7 910.1L820.2 905.9L820.5 903.6L820.7 901.3L821 898.8L821.2 896.3L821.5 893.7L821.7 890.9L822 888L822.2 885L822.5 881.7L822.7 878.3L823 874.7L823.2 870.8L823.5 866.7L823.6 864.5L823.7 861.9L823.9 859L824 855.9L824.1 852.7L824.2 849.3L824.4 845.9L824.5 842.5L824.6 839.1L824.7 835.9L824.9 832.8L825 830L825.1 827.5L825.3 823.7L825.5 820.4L825.7 817.4L825.9 814.6L826.2 811.8L826.4 808.8L826.6 805.7L826.8 802.1L827 798L827.2 793.3L827.4 788L827.6 782.1L827.8 775.6L828 768.6L828.2 761.2L828.5 753.4L828.7 745.2L828.9 736.7L829.1 727.9L829.3 718.9L829.5 709.6L829.7 700.3L829.9 690.8L830.1 681.2L830.3 671.7L830.5 662.2L830.8 652.7L831 643.4L831.2 634.2L831.4 625.2L831.6 616.5L831.8 608.1L832 600L832.2 591.2L832.5 582.2L832.7 573.1L832.9 563.8L833.1 554.5L833.4 545.1L833.6 535.6L833.8 526.2L834.1 516.8L834.3 507.4L834.5 498.1L834.8 489L835 480L835.2 471.2L835.4 462.6L835.7 454.3L835.9 446.2L836.1 438.4L836.4 431L836.6 424L836.8 417.3L837 411.1L837.3 405.3L837.5 400L837.9 392.3L838.2 384.6L838.6 377L838.9 369.5L839.3 362.2L839.6 355L840 347.9L840.3 341.1L840.7 334.4L841 328L841.4 321.8L841.8 315.9L842.1 310.2L842.5 304.9L842.8 299.8L843.2 295.1L843.5 290.8L843.9 286.8L844.2 283.3L844.6 280.1L844.9 277.4L845.3 275.1L845.6 273.3L846 272L846.8 269.9L847.5 269" stroke="#2222ff" stroke-width="5.2" stroke-dasharray="19.6 19.9" stroke-dashoffset="21.2"/>
<path d="M847.5 269L848.2 269.9L849 272L849.3 273.5L849.6 275.9L849.9 279.2L850.2 283.4L850.6 288.2L850.9 293.8L851.2 299.9L851.5 306.5L851.8 313.6L852.1 321L852.4 328.7L852.8 336.6L853.1 344.6L853.4 352.7L853.7 360.8L854 368.7L854.3 376.5L854.6 384L854.9 391.2L855.2 398L855.6 404.3L855.9 410.1L856.2 415.2L856.5 419.6L856.8 423.3L857.1 426.8L857.4 430.1L857.7 433.2L858 436.2L858.3 439.1L858.6 441.8L858.9 444.6L859.2 447.3L859.5 450.1L859.8 452.9L860.1 455.8L860.4 458.8L860.7 461.9L861 465.1L861.3 468.4L861.6 471.6L861.9 474.9L862.2 478.2L862.5 481.5L862.8 484.7L863.1 487.9L863.4 491.1L863.7 494.1L864 497.1L864.3 500L864.7 503.5L865.1 507L865.4 510.5L865.8 513.9L866.2 517.3L866.6 520.6L866.9 523.9L867.3 527L867.7 530.1L868.1 533L868.4 535.9L868.8 538.6L869.2 541.2L869.7 545L870.3 549.1L870.8 553.2L871.4 557.1L871.9 560.8L872.5 563.9L873 566.4L873.6 568L874.1 568.6" stroke="#2222ff" stroke-width="5.2" stroke-dasharray="19.6 19.9" stroke-dashoffset="16.3"/>
<path d="M874.1 568.6L876.5 567.4L879 565L881.5 562.3L883.9 558.8L885.6 555.6L887.3 551L887.9 547.7L888.5 543.1L889.2 539.1L889.8 537.3" stroke="#2222ff" stroke-width="5.2" stroke-dasharray="19.6 19.9" stroke-dashoffset="0.0"/>
<path d="M889.8 537.3L891.6 538.4L893.5 540.5L895.5 542.5L897.6 545.5L898.4 547.7L899.1 551.1L899.9 555.3L900.6 560L901 562.6L901.4 565.7L901.7 569L902.1 572.7L902.5 576.5L902.7 579L903 581.6L903.2 584.4L903.4 587.3L903.7 590.3L903.9 593.4L904.1 596.6L904.3 599.8L904.6 603L904.8 606.2L905 609.4L905.3 612.6L905.5 615.7L905.7 618.7L905.9 621.7L906.2 624.7L906.4 627.7L906.6 630.8L906.8 633.8L907.1 636.8L907.3 639.9L907.5 642.9L907.7 646L908 649L908.2 652L908.4 655L908.6 658L908.9 661L909.1 664L909.3 667L909.5 670L909.8 672.9L910 675.9L910.2 678.9L910.4 681.8L910.7 684.8L910.9 687.8L911.1 690.8L911.3 693.9L911.6 696.9L911.8 700L912 703.2L912.3 706.4L912.5 709.8L912.7 713.1L912.9 716.5L913.2 719.9L913.4 723.2L913.6 726.4L913.8 729.5L914.1 732.5L914.3 735.3L914.6 738.8L914.9 742.3L915.2 745.6L915.5 748.9L915.8 752.1L916.1 755.2L916.4 758.2L916.7 761.2L917 764L917.3 766.8L917.6 769.4L917.9 772L918.2 774.5L918.7 778.2L919.1 781.8L919.6 785.4L920 788.9L920.5 792.3L920.9 795.6L921.4 798.7L921.8 801.7L922.3 804.5L922.7 807.2L923.2 809.6L923.6 811.8L924.1 813.7L925.3 818.1L926.4 822.1L927.6 825.7L928.8 829L929.9 832.1L931.1 834.9L932.2 837.6L933.4 840L934.6 842.4L935.7 844.7L936.9 847L938.6 850.1L940.3 853L941.9 855.7L943.6 858.2L945.3 860.6L947 862.9L948.6 865.1L950.3 867.3L952 869.5L953.7 871.8L955.4 874.2L957 876.7L958.7 879.5L960.4 882.4L961.7 884.9L963 887.7L964.3 890.7L965.6 893.8L966.9 897.1L968.2 900.3L969.6 903.6L970.9 906.7L972.2 909.8L973.5 912.6L974.8 915.3L976.1 917.6L978 920.8L980 924L982 927L983.9 929.6L985.8 931.8L987.8 933.3L991.1 935.2L994.3 936.7L997.6 937.3" stroke="#2222ff" stroke-width="5.2" stroke-dasharray="19.6 19.9" stroke-dashoffset="4.3"/>
<path d="M997.6 937.3L1000.8 937.4L1004.1 937.4L1007.3 937.5L1010.6 937.5L1013.8 937.5L1017 937.6L1020.3 937.6L1023.5 937.6L1026.8 937.6L1030 937.6L1033 937.6L1036 937.6L1039 937.5L1042 937.5L1045 937.4L1048 937.4L1051 937.3L1054 937.2L1057 937.1L1060 937L1063.3 936.9L1066.6 936.7L1070 936.5L1073.3 936.2L1076.6 935.9L1079.4 935.4L1082.2 934.5L1084.9 933.2L1087.7 931.6L1090.5 929.7L1093.3 927.6L1094.8 926L1096.3 923.9L1097.8 921.3L1099.4 918.4L1100.9 915.2L1102.4 911.9L1103.9 908.6L1105.1 905.9L1106.3 903L1107.5 900L1108.6 896.7L1109.8 893.2L1111 889.6L1111.9 886.7L1112.7 883.6L1113.6 880.3L1114.4 876.8L1115.3 873.4L1116.1 870.1L1117 867L1118 863.8L1119 860.8L1120 857.8L1120.9 854.8L1121.9 851.6L1122.9 848L1123.5 845.4L1124.1 842.5L1124.7 839.3L1125.3 836.1L1125.9 832.8L1126.5 829.7L1127.1 826.8L1127.7 824.3L1128.6 821L1129.6 818.1L1130.5 815.4L1131.5 812.8L1132.4 810L1133.4 806.8L1134.4 803.4L1135.4 799.9L1136.4 796.6L1137.4 793.6L1138.4 791L1140.2 786.9L1142 783.2L1143.7 780.2L1145.5 778L1148.5 775.5L1151.4 774.4L1154.2 775.4L1157 777.7L1159.8 780.3L1161.8 782.2L1163.9 784.5L1165.9 786.9L1167.9 789.6L1169.9 792.3L1172 795.1L1174 798L1175.6 800.4L1177.2 802.9L1178.8 805.7L1180.3 808.5L1181.9 811.5L1183.5 814.4L1185.1 817.3L1186.7 820L1188.2 822.7L1189.8 825.1L1191.4 827.2L1193 829L1195.7 831.7L1198.4 834.1L1201.1 836.3L1203.9 838.3L1206.6 840.1L1209.3 841.7L1212 843.3L1215.2 845L1218.3 846.5L1221.5 847.9L1224.7 849.2L1227.8 850.4L1231 851.6L1234 852.7L1237.1 853.8L1240.1 854.9" stroke="#2222ff" stroke-width="5.2" stroke-dasharray="20 20.2" stroke-dashoffset="0.0"/>
<path d="M1240.1 854.9L1243.1 856L1246.1 857.1L1249.2 858.1L1252.2 859L1255.2 859.9L1258.2 860.8L1261.3 861.6L1264.3 862.3L1267.3 863L1270.3 863.6L1273.4 864.2L1276.4 864.8L1279.4 865.4L1282.4 865.9L1285.4 866.4L1288.4 866.9L1291.5 867.4L1294.5 867.8L1297.5 868.2L1300.6 868.6L1303.7 869L1306.8 869.3L1309.9 869.7L1313 870L1316.1 870.3L1319.3 870.6L1322.4 870.9L1325.5 871.2L1328.6 871.5L1331.7 871.8L1334.8 872L1337.9 872.3L1341 872.6L1344.1 872.8L1347.2 873.1L1350.3 873.3L1353.4 873.5L1356.5 873.8L1359.7 874L1362.8 874.2L1365.9 874.4L1369 874.7L1372.1 874.9L1375.2 875.1L1378.3 875.3L1381.3 875.5L1384.3 875.7L1387.4 875.9L1390.4 876.1L1393.4 876.3L1396.5 876.5L1399.5 876.7L1402.5 876.8L1405.5 877L1408.5 877.2L1411.6 877.4L1414.6 877.6L1417.6 877.8L1420.7 878L1423.7 878.2L1426.7 878.4L1429.7 878.6L1432.7 878.8L1435.7 879" stroke="#2222ff" stroke-width="5.2" stroke-dasharray="20 20.2" stroke-dashoffset="30.6"/>
<path d="M1435.7 879L1438.8 879.2L1441.8 879.3L1444.8 879.5L1447.8 879.7L1450.8 879.9L1453.8 880.2L1456.9 880.4L1459.9 880.7L1462.9 881L1465.9 881.4L1469.2 881.9L1472.4 882.5L1475.7 883.3L1479 884.2L1482.2 885.2L1485.5 886.3L1488.4 887.4L1491.4 888.6L1494.3 890L1497.2 891.5L1500.2 893.2L1503.1 895L1505.4 896.6L1507.7 898.5L1510 900.6L1512.3 902.8L1514.6 904.9L1516.9 906.9L1519.4 909L1521.9 911L1524.4 913L1527 915L1529.5 917L1532 918.8L1534.5 920.6L1537.5 922.6L1540.4 924.7L1543.3 926.7L1546.3 928.5L1549.2 930.1L1552.2 931.4L1555.5 932.7L1558.7 933.9L1562 935L1565.3 935.9L1568.5 936.6L1571.8 936.9L1574.8 937L1577.8 937.1L1580.8 937.2L1583.9 937.2L1586.9 937.3L1589.9 937.3L1592.9 937.4L1595.9 937.4L1598.9 937.4L1602 937.5L1605 937.5L1608 937.6L1611 937.6" stroke="#2222ff" stroke-width="5.2" stroke-dasharray="20 20.2" stroke-dashoffset="31.1"/>
<path d="M209.4 1287.4L212.6 1287.4L215.8 1287.4L219 1287.4L222.2 1287.4L225.4 1287.4L228.6 1287.4L231.8 1287.4L235 1287.4L238.2 1287.3L241.4 1287.3L244.6 1287.3L247.8 1287.3L251 1287.3L254.7 1287.3L258.3 1287.2L262 1287L265.3 1286.7L268.7 1286L272 1285.2L274.9 1284.2L277.8 1282.8L280.8 1281.2L283.7 1279.4L286.6 1277.6L289.3 1275.9L292 1274.2L294.8 1272.4L297.5 1270.4L300.2 1268.1L302.9 1265.7L304.8 1263.7L306.7 1261.3L308.6 1258.6L310.6 1255.9L312.5 1253.1L314.4 1250.4L316.3 1247.9L318.7 1245.1L321 1242.6L323.4 1240L325.7 1237.4L328.1 1234.6L330.1 1232L332.1 1229.2L334.1 1226.3L336 1223.4L338 1220.7L340 1218.2L342.1 1215.8L344.3 1213.4L346.4 1211.1L348.5 1209L350.6 1206.9L352.8 1205.1L354.9 1203.4L357.9 1201.2L360.8 1199.2L363.8 1197.3L366.8 1195.6L369.7 1194.2L372.7 1193L375.7 1192.1L378.6 1191.2L381.6 1190.4L384.5 1189.7L387.5 1189.1L390.5 1188.5L393.4 1188L396.4 1187.6L399.6 1187.2L402.9 1186.8L406.1 1186.5L409.4 1186.2L412.6 1185.9L415.9 1185.7L419.1 1185.4L422.4 1185.1L425.6 1184.8L428.9 1184.5L432.1 1184.1L435.1 1183.7L438 1183.3L441 1182.9L444 1182.4L446.9 1182L449.9 1181.4L452.9 1180.9L455.9 1180.3L458.8 1179.7L461.8 1179L464.8 1178.3L467.7 1177.5L470.7 1176.7L473.7 1175.7L476.6 1174.5L479.6 1173.1L482.5 1171.5L485.5 1169.9L488.4 1168.1L491.4 1166.3L494.4 1164.4L497.4 1162.4L500.3 1160.1L503.3 1157.4L505.2 1155.5L507 1153.4L508.9 1151.1L510.8 1148.6L512.6 1145.9L514.5 1143L516.3 1139.9L518.2 1136.6L519.4 1134.2L520.7 1131.4L521.9 1128.4L523.1 1125.3L524.4 1122L525.6 1118.8L526.7 1115.9L527.7 1112.7L528.8 1109.5L529.8 1106.2L530.9 1103.1L531.9 1100.4L533 1098L534.8 1094.5L536.6 1091.1L538.3 1088.2L540.1 1086L541.9 1084.6L545.6 1083.1L549.3 1082.5L550.5 1083.2L551.8 1085.3L553 1088.3L554.3 1092.2L555.5 1096.5L556.8 1101L557.3 1103L557.8 1105.4L558.3 1108.2L558.8 1111.3L559.3 1114.6L559.8 1118.1L560.2 1121.7L560.7 1125.4L561.2 1129.1L561.7 1132.7L562.2 1136.2L562.7 1139.5L563.2 1142.5L563.6 1145.4L564.1 1148.4L564.5 1151.3L565 1154.2L565.4 1157.2L565.9 1160.1L566.3 1163.1L566.8 1166.1L567.2 1169L567.7 1172L568.1 1175.1L568.6 1178.1L569 1181L569.5 1184L569.9 1187L570.3 1190.1L570.7 1193.1L571.2 1196.2L571.6 1199.3L572 1202.3L572.5 1205.4L572.9 1208.4L573.3 1211.3L573.7 1214.2L574.2 1217L574.6 1219.7L575.1 1223L575.7 1226.4L576.2 1229.8L576.7 1233.1L577.3 1236.3L577.8 1239.4L578.4 1242.5L578.9 1245.4L579.4 1248.1L580 1250.7L580.5 1253L581.4 1256.6L582.3 1259.9" stroke="#2222ff" stroke-width="5.2" stroke-dasharray="20 20.2" stroke-dashoffset="0.0"/>
<path d="M582.3 1259.9L583.2 1262.9L584.1 1265.6L585 1268L586.7 1271.9L588.3 1275.2L590 1277.5L593.3 1280.2L596.7 1282.1L600 1283.5L602.9 1284.6L605.8 1285.6L608.7 1286.4L611.6 1286.8L614.8 1287L618.1 1287.1L621.3 1287.2L624.5 1287.3L627.8 1287.4L631 1287.4L637.2 1287.4L643.4 1287.5L649.6 1287.5L655.8 1287.5L662 1287.6L668.2 1287.6L674.5 1287.6L680.7 1287.6L686.9 1287.7L693.1 1287.7L699.3 1287.7L705.5 1287.7L711.7 1287.7L717.9 1287.7L724.1 1287.8L730.3 1287.8L736.5 1287.8L742.8 1287.8L749 1287.8L755.2 1287.8L761.4 1287.8L767.6 1287.8L773.8 1287.8L780 1287.8L783.1 1287.8L786.2 1287.8L789.3 1287.8L792.4 1287.8L795.5 1287.8L798.5 1287.8L801.6 1287.7L804.7 1287.7L807.8 1287.7L810.9 1287.6L814 1287.6L816.1 1286.6L818.2 1284" stroke="#2222ff" stroke-width="5.2" stroke-dasharray="20 20.2" stroke-dashoffset="21.1"/>
<path d="M818.2 1284L818.7 1282.7L819.2 1280.4L819.7 1277.3L820.1 1273.8L820.6 1270L821.1 1266.2L821.6 1262.7L822 1259.9L822.5 1257.2L822.9 1254.7L823.3 1252L823.8 1249.2L824.2 1246L824.6 1242.3L825.1 1238L825.5 1233L825.6 1231.2L825.8 1229.1L825.9 1226.6L826 1223.8L826.1 1220.7L826.2 1217.5L826.4 1214L826.5 1210.5L826.6 1206.9L826.8 1203.2L826.9 1199.6L827 1196L827.1 1192.6L827.2 1189.2L827.4 1185.7L827.5 1182.1L827.6 1178.4L827.7 1174.7L827.8 1170.8L827.9 1167L828 1163L828.2 1159L828.3 1155L828.4 1150.8L828.5 1146.7L828.6 1142.4L828.8 1138.2L828.9 1133.8L829 1129.5L829.1 1125.1L829.2 1120.7L829.3 1116.2L829.4 1111.7L829.6 1107.1L829.7 1102.6L829.8 1098L829.9 1094.3L830 1090.5L830.1 1086.7L830.2 1082.7L830.3 1078.6L830.3 1074.5L830.4 1070.3L830.5 1066.1L830.6 1061.8L830.7 1057.5L830.8 1053.2L830.9 1048.8L831 1044.5L831.1 1040.2L831.2 1035.9L831.3 1031.6L831.4 1027.4L831.5 1023.3L831.5 1019.2L831.6 1015.1L831.7 1011.2L831.8 1007.4L831.9 1003.6L832 1000L832.2 992.2L832.4 984.5L832.6 977.1L832.8 969.8L833 962.7L833.2 955.7L833.4 948.8L833.6 942L833.8 935.3L834 928.7L834.2 922.2L834.5 915.7L834.7 909.2L834.9 902.8L835.1 896.4L835.3 890L835.5 883.6L835.7 877.1L835.9 870.6L836.1 864.1L836.3 857.4L836.5 850.7L836.7 843.9L836.9 837L837.1 831.4L837.2 825.6L837.4 819.6L837.5 813.6L837.7 807.4L837.9 801.2L838 794.9L838.2 788.6L838.4 782.3L838.5 776L838.7 769.7L838.8 763.5L839 757.3L839.2 751.2L839.3 745.3L839.5 739.4L839.7 733.8L839.8 728.3L840 722.9L840.1 717.8L840.3 713L840.5 708.4L840.6 704L840.8 700L841 694.3L841.3 688.6L841.5 683L841.8 677.4L842 671.8L842.2 666.3L842.5 660.9L842.7 655.6L842.9 650.4L843.2 645.4L843.4 640.5L843.6 635.9L843.9 631.4L844.1 627.1L844.4 623.1L844.6 619.3L844.8 615.7L845.1 612.5L845.3 609.5L845.5 606.9L845.8 604.6L846 602.7L846.3 601.2L846.5 600L847 597.9L847.6 597" stroke="#2222ff" stroke-width="5.2" stroke-dasharray="19.6 19.9" stroke-dashoffset="25.5"/>
<path d="M847.6 597L848.2 597.9L848.7 600L848.9 601.1L849 602.9L849.2 605.5L849.3 608.7L849.5 612.5L849.7 616.8L849.8 621.6L850 626.8L850.1 632.3L850.3 638.2L850.4 644.3L850.6 650.6L850.8 657L850.9 663.5L851.1 670L851.2 676.5L851.4 682.9L851.5 689.1L851.7 695.1L851.9 700.9L852 706.3L852.2 711.3L852.3 715.9L852.5 720L852.7 724L852.8 727.9L853 731.8L853.2 735.5L853.3 739.2L853.5 742.9L853.7 746.5L853.8 750L854 753.4L854.2 756.8L854.3 760.1L854.5 763.4L854.7 766.6L854.8 769.7L855 772.8L855.2 775.8L855.3 778.8L855.5 781.7L855.7 784.5L855.8 787.3L856 790.1L856.2 792.8L856.3 795.4L856.5 798L856.8 802.3L857.1 806.6L857.4 810.7L857.6 814.8L857.9 818.8L858.2 822.7L858.5 826.5L858.8 830.3L859 834L859.3 837.6L859.6 841.2L859.9 844.7L860.2 848.1L860.5 851.4L860.8 854.7L861 858L861.3 861.2L861.6 864.3L861.9 867.4L862.2 870.4L862.4 873.4L862.7 876.3L863 879.2L863.3 882L863.7 885.7L864.1 889.4L864.4 893L864.8 896.5L865.2 899.9L865.6 903.3L865.9 906.5L866.3 909.7L866.7 912.7L867.1 915.6L867.4 918.4L867.8 921L868.2 923.5L868.8 927.3L869.4 930.9L870 934.3L870.6 937.5L871.2 940.6L871.8 943.6L872.5 946.5L873.1 949.3L873.7 952L874.3 954.7L874.9 957.4L875.5 960L876.1 962.7L876.9 966.1L877.7 969.3L878.4 972.4L879.2 975.4L880 978.3L880.8 981.3L881.6 984.3L882.3 987.4L883.1 990.6L883.9 994L884.5 996.8L885.1 999.6L885.7 1002.6L886.3 1005.6L886.9 1008.7L887.5 1011.9L888.1 1015.1L888.8 1018.3L889.4 1021.5L890 1024.7L890.6 1027.9L891.2 1031L891.8 1034.1L892.4 1037.1L893 1040L893.7 1043.2L894.4 1046.2L895.1 1049L895.8 1051.7L896.5 1054.4L897.2 1057.2L898 1060L898.7 1063L899.4 1066.2L900.1 1069.7L900.8 1073.7L901.5 1078L901.8 1080.1L902.1 1082.5L902.4 1085.1L902.7 1087.8L903 1090.8L903.3 1093.9L903.7 1097.1L904 1100.4L904.3 1103.8L904.6 1107.3L904.9 1110.9L905.2 1114.4L905.5 1118L905.7 1120.5L905.9 1122.9L906.2 1125.3L906.4 1127.6L906.6 1130L906.8 1132.5L907.1 1135.2L907.3 1138L907.5 1141.1L907.7 1144.5L908 1148.2L908.2 1152.4L908.4 1157L908.5 1159L908.6 1161.6L908.6 1164.6L908.7 1168L908.8 1171.6L908.9 1175.4L908.9 1179.2L909 1182.8L909.1 1186.3L909.2 1189.5L909.2 1192.2L909.3 1194.4L909.4 1196L909.8 1201.5L910.2 1206.2L910.5 1210.4L910.9 1214L911.3 1217.1L911.7 1219.8L912 1222.3L912.4 1224.5L912.8 1226.6L913.2 1228.6L913.5 1230.7L913.9 1232.9L914.3 1235.3L914.8 1238.9L915.4 1242.4L915.9 1246L916.4 1249.5L917 1252.9L917.5 1256.2L918 1259.4L918.5 1262.4L919.1 1265.3L919.6 1267.9L920.1 1270.4L920.7 1272.6L921.2 1274.5L922.4 1278.5L923.6 1282.2L924.8 1285L926 1286.3" stroke="#2222ff" stroke-width="5.2" stroke-dasharray="19.6 19.9" stroke-dashoffset="38.8"/>
<path d="M926 1286.3L929 1287.1L932 1287.6L935 1287.8L940.2 1287.8L945.4 1287.8L950.6 1287.8L955.8 1287.8L961 1287.8L966.2 1287.9L971.5 1287.9L976.7 1287.9L981.9 1287.9L987.1 1287.9L992.3 1287.9L997.5 1287.9L1002.7 1287.9L1007.9 1287.9L1013.1 1287.9L1018.3 1287.9L1023.5 1287.9L1028.8 1287.9L1034 1287.9L1039.2 1287.9L1044.4 1287.9L1049.6 1287.9L1054.8 1287.9L1060 1287.9L1063.2 1287.9L1066.5 1287.8L1069.7 1287.7L1072.9 1287.6L1076.1 1287.4L1079.4 1287.2L1082.6 1287L1085 1286.3L1087.3 1284.7L1089.7 1282.3L1092.1 1279.5L1094.4 1276.4L1096.8 1273.2L1098.2 1271.3L1099.5 1269.1L1100.9 1266.7L1102.2 1264L1103.6 1261.1L1104.9 1257.8L1106.3 1254.2L1107 1252L1107.7 1249.6L1108.4 1246.8L1109.2 1243.8L1109.9 1240.7L1110.6 1237.3L1111.3 1233.9L1112 1230.4L1112.5 1227.8L1113 1225.2L1113.5 1222.4L1114 1219.6L1114.5 1216.6L1115 1213.6L1115.6 1210.5L1116.1 1207.3L1116.6 1204L1117.1 1200.6L1117.6 1197.1L1118.1 1193.6L1118.6 1190L1119 1187.3L1119.3 1184.4L1119.7 1181.4L1120 1178.2L1120.4 1175L1120.7 1171.6L1121.1 1168.3L1121.5 1165L1121.8 1161.7L1122.2 1158.5L1122.5 1155.4L1122.9 1152.5L1123.2 1149.8L1123.6 1147.3L1124.2 1143.4L1124.8 1139.5L1125.4 1135.7L1126 1132.1L1126.5 1128.7L1127.1 1125.6L1127.7 1122.8L1128.3 1120.6L1128.9 1118.8L1130.9 1114.2L1133 1110.9L1135 1109L1138.5 1107.5L1142 1106.9L1143.2 1107.8L1144.4 1110.1L1145.6 1113.4L1146.7 1117.3L1147.9 1121.3L1149.1 1125.2L1150.3 1128.3L1151.7 1131.3L1153.1 1134.1L1154.4 1136.7L1155.8 1139.4L1157.2 1142.1L1158.6 1144.9L1160 1148L1161.4 1151.5L1162.8 1154.9L1164.1 1158.3L1165.5 1161.4L1166.9 1163.9L1169 1167.1L1171.2 1169.8L1173.3 1172.3L1175.5 1174.6L1177.6 1177L1179.8 1179.6L1182 1182.3L1184.2 1185L1186.4 1187.6L1188.6 1189.9L1190.8 1192L1193 1193.6L1196.2 1195.4L1199.3 1197L1202.5 1198.3L1205.7 1199.5L1208.8 1200.7L1212 1201.9L1215.2 1203.2L1218.3 1204.5L1221.5 1205.8L1224.7 1207L1227.8 1208.1L1231 1209L1234.2 1209.7L1237.3 1210.3L1240.5 1210.9L1243.7 1211.4L1246.8 1212L1250 1212.6L1253.2 1213.3L1256.3 1214.1L1259.5 1215" stroke="#2222ff" stroke-width="5.2" stroke-dasharray="20 20.2" stroke-dashoffset="20.6"/>
<path d="M1259.5 1215L1262.7 1215.8L1265.8 1216.6L1269 1217.3L1272.1 1217.9L1275.1 1218.5L1278.2 1219L1281.2 1219.6L1284.3 1220.1L1287.3 1220.5L1290.4 1220.9L1293.5 1221.3L1296.6 1221.6L1299.7 1221.9L1302.8 1222.2L1305.9 1222.5L1309 1222.7L1312.2 1223L1315.3 1223.2L1318.4 1223.5L1321.5 1223.7L1324.6 1224L1327.7 1224.2L1330.8 1224.5L1334 1224.8L1337.1 1225.1L1340.3 1225.4L1343.5 1225.7L1346.6 1226L1349.8 1226.3L1353 1226.6L1356.1 1226.9L1359.3 1227.2L1362.5 1227.5L1365.6 1227.8L1368.8 1228L1371.9 1228.2L1375 1228.4L1378.1 1228.6L1381.2 1228.8L1384.3 1228.9L1387.4 1229.1L1390.6 1229.2L1393.7 1229.4L1396.8 1229.6L1399.9 1229.7L1403 1229.9L1406.1 1230.2L1409.2 1230.4L1412.2 1230.6L1415.2 1230.9L1418.2 1231.2" stroke="#2222ff" stroke-width="5.2" stroke-dasharray="20 20.2" stroke-dashoffset="30.4"/>
<path d="M1418.2 1231.2L1421.2 1231.5L1424.2 1231.8L1427.2 1232.1L1430.2 1232.4L1433.2 1232.8L1436.2 1233.2L1439.2 1233.7L1442.2 1234.2L1445.2 1234.7L1448.2 1235.3L1451.2 1236L1454.1 1237L1457.1 1238.2L1460 1239.5L1463 1240.8L1465.9 1242.2L1469 1243.7L1472.2 1245.4L1475.3 1247.2L1478.5 1249L1481.6 1251L1484.2 1252.8L1486.8 1254.7L1489.4 1256.8L1492.1 1258.8L1494.7 1260.8L1497.3 1262.7L1500.2 1264.6L1503.2 1266.5L1506.1 1268.4L1509 1270.1L1512 1271.8L1514.9 1273.5L1517.8 1275.2L1520.8 1276.9L1523.7 1278.6L1526.6 1280.1L1529.6 1281.4L1532.5 1282.4L1535.6 1283.2L1538.7 1284L1541.8 1284.7L1544.8 1285.3L1547.9 1285.8L1551 1286.1L1554.1 1286.3L1557.2 1286.4L1560.3 1286.5L1563.3 1286.6L1566.4 1286.6L1569.5 1286.7L1572.6 1286.8L1575.7 1286.8L1578.7 1286.8L1581.8 1286.9L1584.9 1286.9L1588 1287L1591.1 1287L1594.2 1287L1597.2 1287.1L1600.3 1287.1L1603.4 1287.1L1606.5 1287.1L1609.6 1287.2L1612.6 1287.2L1615.7 1287.3L1618.8 1287.3" stroke="#2222ff" stroke-width="5.2" stroke-dasharray="20 20.2" stroke-dashoffset="31.2"/>
</g>
<polygon points="840.8,156 851.6,156 848.4,170 847.2,181 845,181 843.8,170" fill="#1a1a1a"/>
<path d="M155.5 186 Q152 204 155.5 222" stroke="#666" stroke-width="3.5" fill="none"/>
<g>
<rect x="156.5" y="120.4" width="1498.5" height="7.6" fill="#717171"/>
<rect x="156.5" y="120.7" width="4" height="1211.7" fill="#484848"/>
<rect x="160.5" y="127.7" width="3.4" height="1197" fill="#a0a0a0"/>
<rect x="1647.4" y="127.7" width="3.4" height="1197" fill="#a0a0a0"/>
<rect x="1650.8" y="120.7" width="4.2" height="1211.7" fill="#3c3c3c"/>
<rect x="160.5" y="1324.6" width="1490" height="3.6" fill="#a0a0a0"/>
<rect x="156.5" y="1328.2" width="1498.5" height="4.2" fill="#3c3c3c"/>
</g>
<g stroke="#151515" stroke-width="4.2">
<line x1="422.9" y1="1305.5" x2="422.9" y2="1328"/>
<line x1="686.5" y1="1305.5" x2="686.5" y2="1328"/>
<line x1="950.0" y1="1305.5" x2="950.0" y2="1328"/>
<line x1="1213.6" y1="1305.5" x2="1213.6" y2="1328"/>
<line x1="1477.1" y1="1305.5" x2="1477.1" y2="1328"/>
<line x1="291.2" y1="1317" x2="291.2" y2="1328"/>
<line x1="554.7" y1="1317" x2="554.7" y2="1328"/>
<line x1="818.3" y1="1317" x2="818.3" y2="1328"/>
<line x1="1081.8" y1="1317" x2="1081.8" y2="1328"/>
<line x1="1345.4" y1="1317" x2="1345.4" y2="1328"/>
<line x1="1608.9" y1="1317" x2="1608.9" y2="1328"/>
</g>
<g font-family="'Liberation Sans', Arial, sans-serif" fill="#050505" stroke="#050505" stroke-width="0.55">
<text x="8.5 51.5 116" y="126.8" font-size="127">(c)</text>
<text x="166" y="200" font-size="75" textLength="637" lengthAdjust="spacingAndGlyphs">ESE, 297K, X-band</text>
<text x="167" y="291" font-size="75" textLength="490" lengthAdjust="spacingAndGlyphs">x-ray irradiated</text>
<text x="866.5" y="189.5" font-size="70">g</text>
<text x="1324.5" y="256" font-size="68" fill="#1c1cff" stroke="#1c1cff" stroke-width="1.1">simulation</text>
<text x="1379" y="767.8" font-size="62.5" textLength="139.5" lengthAdjust="spacingAndGlyphs">WE-1</text>
<text x="1379" y="1180" font-size="62.5" textLength="170.5" lengthAdjust="spacingAndGlyphs">WE-21</text>
<text x="575" y="619.5" font-size="66.5" fill="#7d7d7d" stroke="#7d7d7d" stroke-width="0.5" textLength="85" lengthAdjust="spacingAndGlyphs">2A</text>
<text x="159.4" y="1402.9" font-size="76.5" text-anchor="middle" textLength="123.5" lengthAdjust="spacingAndGlyphs">333</text>
<text x="422.9" y="1402.9" font-size="76.5" text-anchor="middle" textLength="123.5" lengthAdjust="spacingAndGlyphs">336</text>
<text x="686.5" y="1402.9" font-size="76.5" text-anchor="middle" textLength="123.5" lengthAdjust="spacingAndGlyphs">339</text>
<text x="950.0" y="1402.9" font-size="76.5" text-anchor="middle" textLength="123.5" lengthAdjust="spacingAndGlyphs">342</text>
<text x="1213.6" y="1402.9" font-size="76.5" text-anchor="middle" textLength="123.5" lengthAdjust="spacingAndGlyphs">345</text>
<text x="1477.1" y="1402.9" font-size="76.5" text-anchor="middle" textLength="123.5" lengthAdjust="spacingAndGlyphs">348</text>
<text x="905.5" y="1494" font-size="77" text-anchor="middle" textLength="230.5" lengthAdjust="spacingAndGlyphs">B (mT)</text>
</g>
<g font-family="'DejaVu Sans', sans-serif" stroke-linejoin="miter">
<text x="901.5" y="206" font-size="42" fill="#8a8a8a" stroke="#8a8a8a" stroke-width="2">⊥</text>
<text x="654" y="638.5" font-size="42" fill="#bdbdbd" stroke="#bdbdbd" stroke-width="2">⊥</text>
</g>
<line x1="1178" y1="235.7" x2="1310" y2="235.7" stroke="#2222ff" stroke-width="5.6" stroke-dasharray="26.5 25"/>
</g>
</svg>
</body></html>
